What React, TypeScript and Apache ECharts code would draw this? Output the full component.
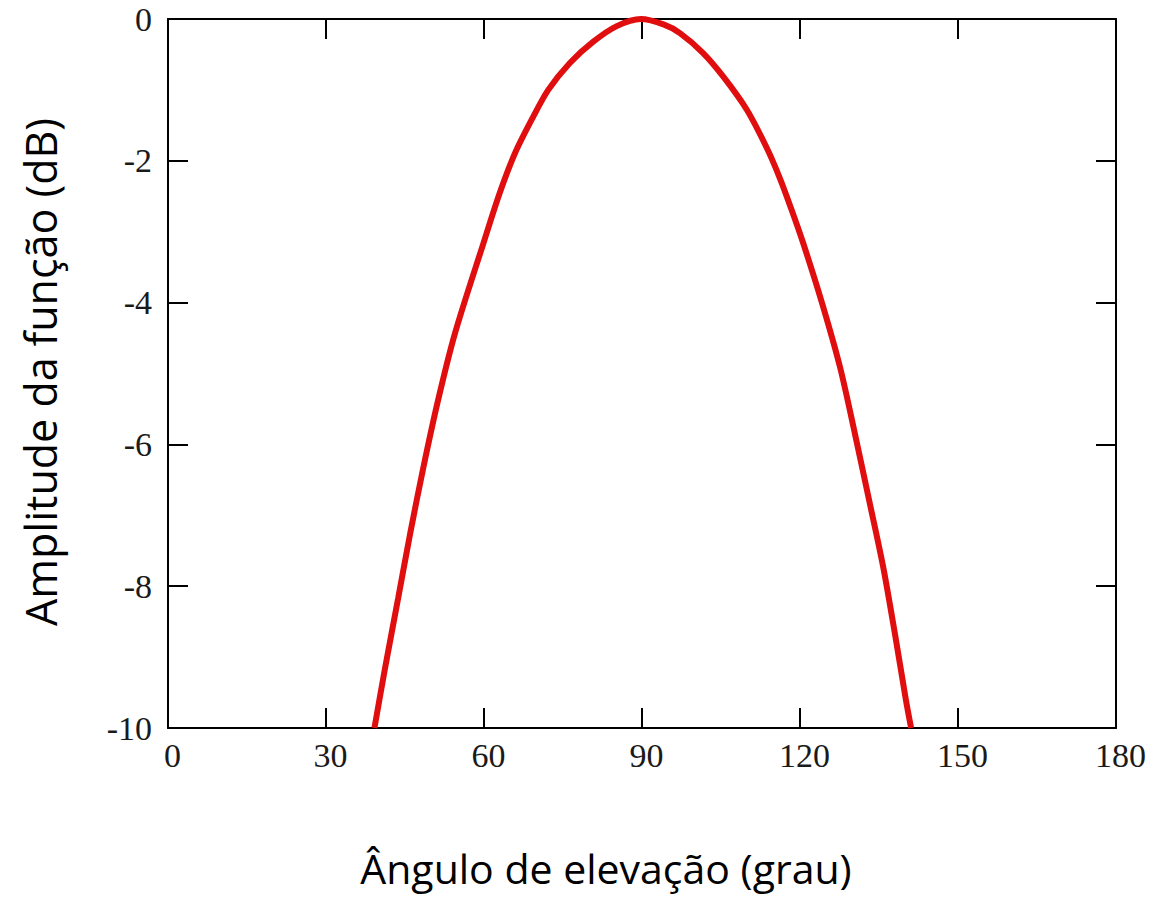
import React, { useEffect, useRef } from "react";
import * as echarts from "echarts";

const angles = [39.2, 41.2, 43.7, 45.95, 48.5, 51.3, 54.5, 59.9, 63.0, 65.9, 69.05, 72.2, 76.3, 80.75, 85.2, 89.8, 94.2, 97.2, 101.6, 105.4, 109.9, 113.7, 116.2, 118.4, 120.6, 124.2, 127.6, 130.4, 133.1, 135.8, 138.0, 140.1, 141.1];
const amplitudes = [-10, -9.16, -8.17, -7.27, -6.32, -5.37, -4.43, -3.16, -2.45, -1.89, -1.42, -1.0, -0.62, -0.32, -0.1, 0, -0.08, -0.2, -0.48, -0.81, -1.28, -1.82, -2.25, -2.69, -3.16, -4.01, -4.91, -5.84, -6.78, -7.73, -8.66, -9.6, -10];
const xTitle = "Ângulo de elevação (grau)";
const yTitle = "Amplitude da função (dB)";

export default function App() {
  const ref = useRef<HTMLDivElement>(null);
  useEffect(() => {
    if (!ref.current) return;
    const chart = echarts.init(ref.current, undefined, { renderer: "svg" });
    const axisLine = { show: true, onZero: false, lineStyle: { color: "#000", width: 2 } };
    const tickStyle = { show: true, inside: true, length: 20, lineStyle: { color: "#000", width: 2 } };
    const labelFont = { fontFamily: "Liberation Serif", fontSize: 34, color: "#1a1a1a" };
    chart.setOption({
      animation: false,
      backgroundColor: "#fff",
      grid: { left: 168, top: 19, right: 37, bottom: 171, show: false },
      xAxis: [
        {
          type: "value", min: 0, max: 180, interval: 30, position: "bottom",
          axisLine, axisTick: tickStyle, splitLine: { show: false },
          axisLabel: { ...labelFont, margin: 10, padding: [0, 0, 0, 9] },
        },
        {
          type: "value", min: 0, max: 180, interval: 30, position: "top",
          axisLine, axisTick: tickStyle, splitLine: { show: false }, axisLabel: { show: false },
        },
      ],
      yAxis: [
        {
          type: "value", min: -10, max: 0, interval: 2, position: "left",
          axisLine, axisTick: tickStyle, splitLine: { show: false },
          axisLabel: { ...labelFont, margin: 16 },
        },
        {
          type: "value", min: -10, max: 0, interval: 2, position: "right",
          axisLine, axisTick: tickStyle, splitLine: { show: false }, axisLabel: { show: false },
        },
      ],
      graphic: [
        {
          type: "text", x: 606, y: 868,
          style: { text: xTitle, fontFamily: "Open Sans", fontSize: 41, fill: "#000", align: "center", verticalAlign: "middle" },
        },
        {
          type: "text", x: 40, y: 372, rotation: Math.PI / 2,
          style: { text: yTitle, fontFamily: "Open Sans", fontSize: 43, fill: "#000", align: "center", verticalAlign: "middle" },
        },
      ],
      series: [
        {
          type: "line",
          data: angles.map((a, i) => [a, amplitudes[i]]),
          smooth: 0.3,
          showSymbol: false,
          clip: true,
          lineStyle: { color: "#e00e0e", width: 6 },
        },
      ],
    });
    return () => chart.dispose();
  }, []);
  return <div ref={ref} style={{ position: "fixed", left: 0, top: 0, width: 1153, height: 899 }} />;
}
